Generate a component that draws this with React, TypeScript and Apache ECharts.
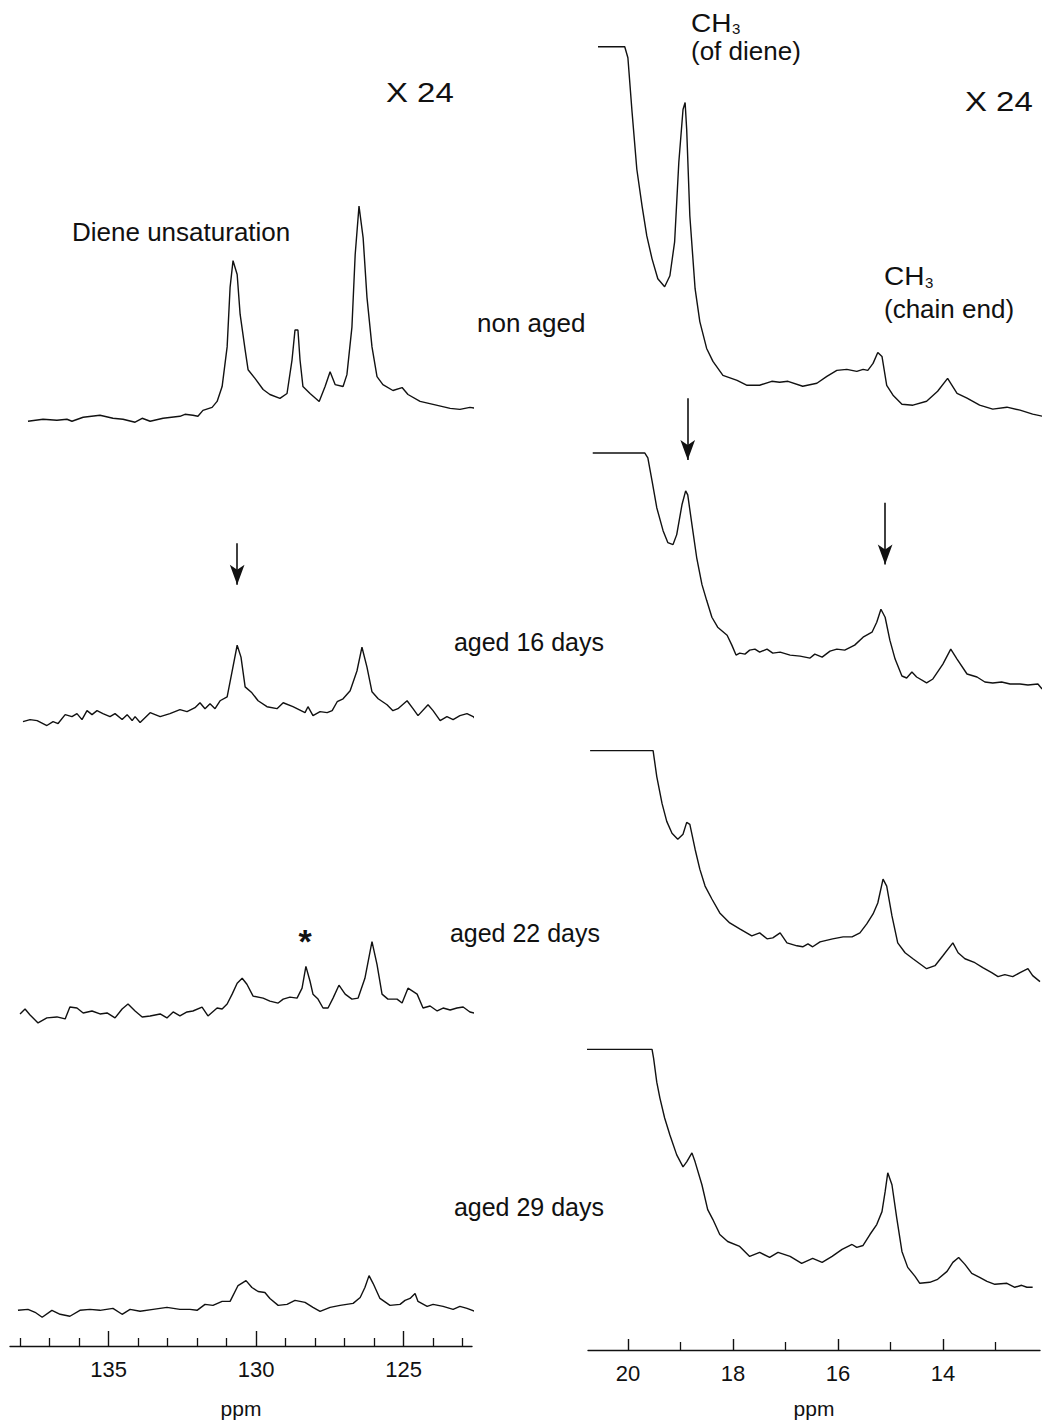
import React, { useEffect, useRef } from "react";
import * as echarts from "echarts";

// ---- axis ticks (ppm) ----
const leftMajorTicks = [125, 130, 135];
const leftMinorTicks = [123, 124, 126, 127, 128, 129, 131, 132, 133, 134, 136, 137, 138];
const rightMajorTicks = [14, 16, 18, 20];
const rightMinorTicks = [13, 15, 17, 19];

const sampleLabels = ["non aged", "aged 16 days", "aged 22 days", "aged 29 days"];

// vertical stacking offsets of each trace (a.u.)
const leftOffsets = [933, 630, 335, 36];
const rightOffsets = [936, 666, 366, 61];

// ---- left panel: olefinic region, [ppm, intensity a.u.] ----
const leftNonAged: [number, number][] = [
  [137.73, 0], [137.22, 2], [136.75, 1], [136.41, 2], [136.24, 0], [135.86, 4], [135.29, 6], [134.85, 3],
  [134.51, 2], [134.10, -1], [133.86, 3], [133.59, 0], [133.15, 3], [132.58, 5], [132.41, 7], [132.14, 6],
  [131.97, 5], [131.80, 11], [131.49, 14], [131.32, 20], [131.15, 35], [130.98, 75], [130.88, 135], [130.78, 162],
  [130.64, 148], [130.54, 108], [130.37, 72], [130.27, 52], [130.03, 43], [129.76, 32], [129.53, 27], [129.19, 23],
  [128.95, 28], [128.78, 62], [128.68, 92], [128.58, 92], [128.51, 62], [128.41, 35], [128.17, 28], [127.86, 20],
  [127.66, 35], [127.49, 50], [127.32, 37], [127.05, 35], [126.92, 47], [126.75, 95], [126.64, 168], [126.51, 217],
  [126.37, 185], [126.24, 125], [126.07, 75], [125.90, 45], [125.70, 37], [125.36, 31], [125.05, 34], [124.85, 27],
  [124.44, 20], [124.00, 17], [123.42, 13], [123.09, 12], [122.75, 14], [122.34, 12],
];
const left16Days: [number, number][] = [
  [137.90, 0], [137.66, 2], [137.42, 1], [137.09, -4], [136.88, 0], [136.71, -2], [136.47, 7], [136.24, 5],
  [136.07, 8], [135.90, 2], [135.73, 11], [135.56, 7], [135.39, 11], [135.19, 8], [134.95, 5], [134.78, 8],
  [134.54, 2], [134.37, 7], [134.20, 1], [134.10, 5], [133.93, -1], [133.59, 9], [133.25, 5], [132.92, 8],
  [132.58, 12], [132.34, 10], [132.07, 14], [131.90, 19], [131.73, 13], [131.56, 18], [131.39, 13], [131.22, 21],
  [130.98, 25], [130.81, 51], [130.64, 77], [130.51, 65], [130.37, 35], [130.14, 29], [129.93, 21], [129.63, 15],
  [129.29, 13], [129.08, 19], [128.75, 15], [128.34, 9], [128.24, 15], [128.07, 6], [127.83, 10], [127.59, 9],
  [127.42, 11], [127.25, 20], [127.05, 23], [126.81, 31], [126.58, 51], [126.41, 75], [126.24, 55], [126.07, 30],
  [125.86, 23], [125.56, 17], [125.36, 11], [125.19, 13], [124.88, 21], [124.68, 13], [124.51, 6], [124.17, 17],
  [124.00, 11], [123.76, 1], [123.53, 5], [123.32, 2], [123.09, 6], [122.85, 8], [122.64, 5], [122.41, -2],
];
const left22Days: [number, number][] = [
  [138.00, 0], [137.83, 5], [137.66, -1], [137.39, -9], [137.09, -4], [136.75, -3], [136.47, -5], [136.31, 7],
  [136.07, 6], [135.86, 1], [135.56, 3], [135.29, 0], [135.05, 1], [134.78, -4], [134.54, 5], [134.34, 10],
  [134.10, 3], [133.86, -3], [133.59, -2], [133.25, 0], [133.02, -4], [132.81, 2], [132.58, -2], [132.34, 2],
  [132.14, 3], [131.83, 7], [131.63, -2], [131.32, 6], [131.15, 5], [130.98, 10], [130.81, 20], [130.64, 31],
  [130.47, 36], [130.31, 30], [130.10, 18], [129.76, 16], [129.53, 13], [129.25, 11], [129.08, 15], [128.85, 17],
  [128.61, 16], [128.44, 26], [128.31, 48], [128.17, 33], [128.07, 20], [127.90, 15], [127.73, 6], [127.56, 6],
  [127.39, 16], [127.19, 29], [126.98, 20], [126.75, 15], [126.54, 16], [126.31, 36], [126.07, 73], [125.90, 50],
  [125.73, 20], [125.53, 15], [125.22, 15], [125.05, 11], [124.85, 26], [124.54, 20], [124.34, 6], [124.10, 8],
  [123.86, 3], [123.66, 6], [123.42, 4], [123.19, 6], [122.98, 7], [122.75, 2], [122.48, 0],
];
const left29Days: [number, number][] = [
  [138.07, 0], [137.73, 1], [137.49, -2], [137.25, -7], [136.92, 0], [136.64, -4], [136.31, -6], [135.97, 0],
  [135.63, 1], [135.29, 0], [134.85, 2], [134.54, -4], [134.27, 1], [133.93, -1], [133.49, 1], [133.02, 3],
  [132.58, 1], [132.24, 1], [132.00, 0], [131.73, 6], [131.46, 5], [131.15, 9], [130.88, 9], [130.61, 25],
  [130.34, 30], [130.14, 23], [129.93, 19], [129.70, 18], [129.53, 12], [129.25, 5], [128.95, 6], [128.68, 10],
  [128.34, 8], [128.07, 3], [127.83, -1], [127.49, 3], [127.15, 5], [126.71, 7], [126.47, 13], [126.31, 23],
  [126.17, 35], [126.03, 27], [125.80, 12], [125.46, 5], [125.12, 6], [124.95, 10], [124.78, 12], [124.61, 17],
  [124.51, 9], [124.20, 4], [124.00, 6], [123.66, 4], [123.32, 1], [123.09, 4], [122.85, 2], [122.58, -1], [122.41, 0],
];

// ---- right panel: methyl region, [ppm, intensity a.u.] ----
const rightNonAged: [number, number][] = [
  [20.57, 373], [20.06, 373], [20.00, 362], [19.92, 307], [19.83, 250], [19.73, 213], [19.64, 183], [19.54, 160],
  [19.43, 140], [19.30, 132], [19.20, 143], [19.11, 177], [19.03, 257], [18.95, 310], [18.91, 317], [18.88, 290],
  [18.82, 203], [18.72, 130], [18.63, 97], [18.50, 70], [18.38, 57], [18.19, 43], [17.92, 38], [17.73, 33],
  [17.49, 33], [17.26, 37], [17.11, 36], [16.95, 37], [16.67, 32], [16.40, 35], [16.21, 42], [16.02, 48],
  [15.83, 49], [15.64, 47], [15.52, 49], [15.43, 48], [15.33, 55], [15.24, 66], [15.16, 62], [15.07, 33],
  [14.95, 23], [14.78, 14], [14.57, 13], [14.31, 17], [14.10, 27], [13.91, 40], [13.73, 25], [13.54, 20],
  [13.30, 13], [13.05, 9], [12.78, 11], [12.53, 8], [12.29, 4], [12.11, 2],
];
const right16Days: [number, number][] = [
  [20.67, 235], [19.68, 235], [19.62, 230], [19.54, 207], [19.45, 180], [19.33, 157], [19.24, 145], [19.14, 143],
  [19.07, 153], [18.97, 183], [18.90, 197], [18.86, 193], [18.78, 163], [18.69, 130], [18.59, 103], [18.50, 87],
  [18.40, 70], [18.29, 60], [18.11, 52], [18.02, 42], [17.94, 32], [17.87, 34], [17.77, 33], [17.68, 37],
  [17.58, 38], [17.49, 35], [17.35, 38], [17.24, 34], [17.10, 35], [16.91, 32], [16.72, 31], [16.53, 29],
  [16.44, 33], [16.30, 30], [16.15, 36], [16.02, 38], [15.87, 37], [15.68, 42], [15.52, 50], [15.35, 55],
  [15.26, 65], [15.18, 78], [15.10, 70], [15.01, 47], [14.91, 28], [14.78, 11], [14.69, 9], [14.59, 15],
  [14.50, 10], [14.31, 4], [14.19, 8], [14.00, 23], [13.85, 38], [13.73, 28], [13.54, 13], [13.35, 10],
  [13.20, 5], [13.05, 4], [12.88, 5], [12.72, 3], [12.53, 3], [12.38, 2], [12.19, 3], [12.11, -2],
];
const right22Days: [number, number][] = [
  [20.72, 236], [19.52, 236], [19.45, 210], [19.35, 183], [19.26, 165], [19.16, 153], [19.05, 147], [18.95, 152],
  [18.88, 164], [18.82, 162], [18.72, 137], [18.63, 117], [18.53, 100], [18.40, 87], [18.25, 73], [18.06, 63],
  [17.87, 57], [17.64, 50], [17.49, 53], [17.35, 47], [17.24, 48], [17.10, 53], [16.97, 43], [16.78, 40],
  [16.67, 39], [16.57, 42], [16.48, 39], [16.34, 44], [16.10, 47], [15.90, 49], [15.73, 49], [15.58, 53],
  [15.45, 62], [15.33, 72], [15.24, 83], [15.14, 107], [15.07, 100], [14.97, 70], [14.86, 43], [14.72, 33],
  [14.57, 27], [14.44, 22], [14.31, 17], [14.15, 20], [14.00, 30], [13.81, 43], [13.71, 33], [13.58, 27],
  [13.39, 23], [13.24, 18], [13.07, 13], [12.95, 9], [12.82, 11], [12.67, 9], [12.53, 13], [12.38, 17],
  [12.29, 10], [12.15, 4],
];
const right29Days: [number, number][] = [
  [20.82, 241], [19.54, 241], [19.51, 232], [19.45, 208], [19.39, 192], [19.30, 172], [19.20, 155], [19.07, 135],
  [18.95, 123], [18.88, 128], [18.78, 137], [18.72, 128], [18.59, 105], [18.48, 80], [18.38, 70], [18.25, 55],
  [18.10, 48], [17.87, 43], [17.68, 33], [17.49, 37], [17.30, 32], [17.14, 37], [16.91, 33], [16.69, 26],
  [16.48, 31], [16.30, 27], [16.11, 33], [15.92, 40], [15.73, 45], [15.64, 42], [15.52, 44], [15.39, 55],
  [15.26, 65], [15.16, 78], [15.10, 98], [15.05, 117], [14.97, 105], [14.88, 72], [14.78, 38], [14.67, 22],
  [14.53, 13], [14.44, 6], [14.25, 7], [14.10, 10], [13.92, 18], [13.81, 27], [13.70, 32], [13.58, 25],
  [13.45, 16], [13.30, 12], [13.16, 8], [13.01, 5], [12.78, 6], [12.63, 2], [12.50, 4], [12.40, 2], [12.29, 2],
];

const leftTraces = [leftNonAged, left16Days, left22Days, left29Days];
const rightTraces = [rightNonAged, right16Days, right22Days, right29Days];

// arrows: [ppm, from a.u., to a.u.] (in stacked axis units)
const leftArrows: [number, number, number][] = [[130.64, 810, 768]];
const rightArrows: [number, number, number][] = [[18.86, 956, 894], [15.1, 851, 789]];

const FONT = "'Liberation Sans', Arial, Helvetica, sans-serif";
const INK = "#111";

export default function App() {
  const ref = useRef<HTMLDivElement>(null);
  useEffect(() => {
    if (!ref.current) return;
    const chart = echarts.init(ref.current, null, { renderer: "svg" });

    const lineStyle = { color: INK, width: 1.4 };
    const mkArrows = (arr: [number, number, number][]) => ({
      silent: true,
      symbol: ["none", "arrow"],
      symbolSize: [11, 20],
      label: { show: false },
      lineStyle: { color: INK, width: 1.6, type: "solid" },
      data: arr.map(([x, a, b]) => [{ coord: [x, a] }, { coord: [x, b] }]),
    });

    const series: any[] = [];
    leftTraces.forEach((tr, i) => {
      series.push({
        type: "line",
        name: "L " + sampleLabels[i],
        xAxisIndex: 0,
        yAxisIndex: 0,
        data: tr.map(([x, v]) => [x, v + leftOffsets[i]]),
        showSymbol: false,
        clip: false,
        lineStyle,
        silent: true,
        markLine: i === 1 ? mkArrows(leftArrows) : undefined,
      });
    });
    rightTraces.forEach((tr, i) => {
      series.push({
        type: "line",
        name: "R " + sampleLabels[i],
        xAxisIndex: 2,
        yAxisIndex: 1,
        data: tr.map(([x, v]) => [x, v + rightOffsets[i]]),
        showSymbol: false,
        clip: false,
        lineStyle,
        silent: true,
        markLine: i === 1 ? mkArrows(rightArrows) : undefined,
      });
    });

    const majorAxis = (grid: number, min: number, max: number, ticks: number[], tickLen: number, nameGap: number) => ({
      type: "value",
      gridIndex: grid,
      position: "bottom",
      min,
      max,
      inverse: true,
      axisLine: { show: true, lineStyle: { color: INK, width: 1.4 } },
      axisTick: { show: true, inside: true, length: tickLen, customValues: ticks, lineStyle: { color: INK, width: 1.4 } },
      axisLabel: { show: true, customValues: ticks, fontSize: 22, color: INK, fontFamily: FONT, margin: 12 },
      splitLine: { show: false },
      name: "ppm",
      nameLocation: "middle",
      nameGap,
      nameTextStyle: { fontSize: 21, color: INK, fontFamily: FONT },
    });
    const minorAxis = (grid: number, min: number, max: number, ticks: number[], tickLen: number) => ({
      type: "value",
      gridIndex: grid,
      position: "bottom",
      offset: 0,
      min,
      max,
      inverse: true,
      axisLine: { show: false },
      axisTick: { show: true, inside: true, length: tickLen, customValues: ticks, lineStyle: { color: INK, width: 1.3 } },
      axisLabel: { show: false },
      splitLine: { show: false },
    });

    const txt = (text: string, x: number, y: number, fontSize: number, opts: any = {}) => ({
      type: "text",
      x,
      y,
      scaleX: opts.scaleX ?? 1,
      silent: true,
      style: {
        text,
        fill: INK,
        fontSize,
        fontFamily: FONT,
        fontWeight: opts.bold ? "bold" : "normal",
        textAlign: opts.align ?? "left",
        textVerticalAlign: "middle",
      },
    });

    chart.setOption({
      animation: false,
      backgroundColor: "#fff",
      grid: [
        { left: 10, top: 0, width: 462, height: 1358 },
        { left: 588, top: 0, width: 452, height: 1356 },
      ],
      xAxis: [
        majorAxis(0, 122.68, 138.34, leftMajorTicks, 15, 52),
        minorAxis(0, 122.68, 138.34, leftMinorTicks, 8),
        majorAxis(1, 12.15, 20.76, rightMajorTicks, 11, 48),
        minorAxis(1, 12.15, 20.76, rightMinorTicks, 8),
      ],
      yAxis: [
        { type: "value", gridIndex: 0, min: 0, max: 1358, show: false },
        { type: "value", gridIndex: 1, min: 0, max: 1356, show: false },
      ],
      series,
      graphic: [
        txt("X 24", 386, 93, 27, { scaleX: 1.22 }),
        txt("X 24", 965, 102, 27, { scaleX: 1.22 }),
        txt("CH", 691, 23, 26, { scaleX: 1.08 }),
        txt("3", 732, 28, 15),
        txt("(of diene)", 691, 51, 26),
        txt("Diene unsaturation", 72, 232, 26),
        txt("CH", 884, 276, 26, { scaleX: 1.08 }),
        txt("3", 925, 282, 15),
        txt("(chain end)", 884, 309, 26),
        txt(sampleLabels[0], 477, 323, 26),
        txt(sampleLabels[1], 604, 642, 25, { align: "right" }),
        txt(sampleLabels[2], 600, 933, 25, { align: "right" }),
        txt(sampleLabels[3], 604, 1207, 25, { align: "right" }),
        txt("*", 305, 941, 34, { bold: true, align: "center" }),
      ],
    });
    return () => chart.dispose();
  }, []);

  return (
    <div
      ref={ref}
      style={{ position: "absolute", left: 0, top: 0, width: 1042, height: 1424, background: "#fff" }}
    />
  );
}
